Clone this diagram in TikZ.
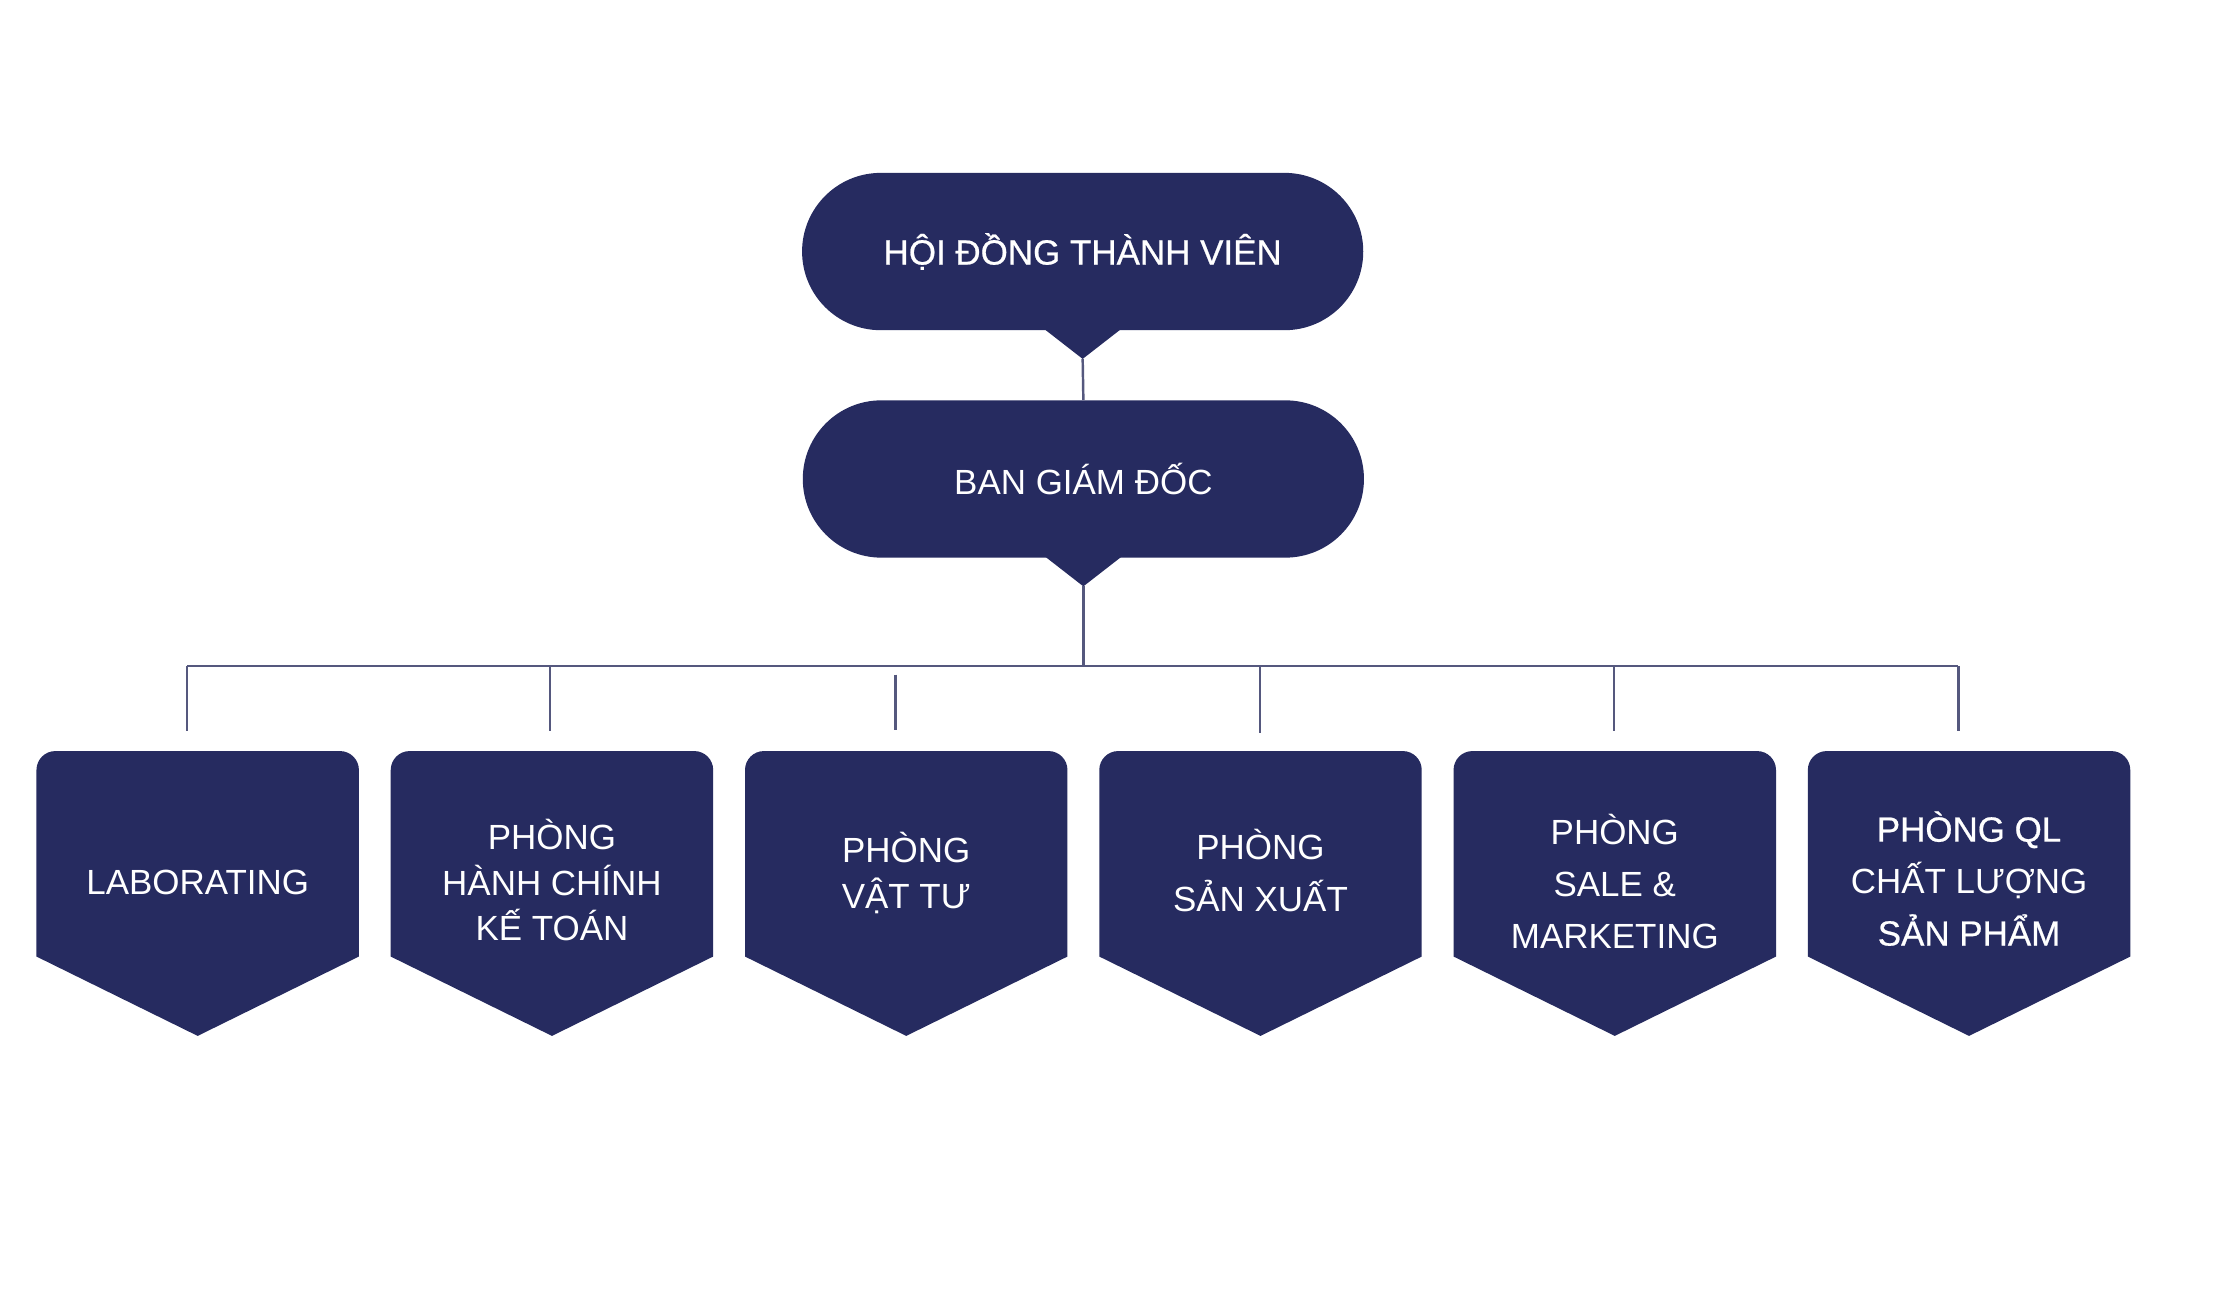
\documentclass[tikz,border=0pt]{standalone}
\usepackage{fontspec}
\setmainfont{Liberation Sans}
\newfontfamily\medfont{Liberation Sans}[FakeBold=0.6]
\usetikzlibrary{shapes.misc,calc,backgrounds}
\definecolor{navy}{HTML}{262B60}
\definecolor{linec}{HTML}{55587E}
\begin{document}
\begin{tikzpicture}[x=0.75pt,y=-0.75pt,
  pill/.style={rounded rectangle, fill=navy, minimum width=297pt, minimum height=83.25pt,
    text=white, font=\fontsize{18.5}{22}\selectfont, inner sep=0pt},
  dept/.style={minimum width=170.25pt, text=white, align=center,
    font=\fontsize{18.5}{24}\selectfont, inner sep=0pt},
  wide/.style={font=\fontsize{18.5}{27.5}\selectfont},
  conn/.style={draw=linec, line width=1.3pt}]
\useasboundingbox (0,0) rectangle (1568,919.5);

% top nodes
\node[pill] (hdtv) at (764,177.5) {\medfont HỘI ĐỒNG THÀNH VIÊN};
\node[pill] (bgd) at (764.5,338) {\raisebox{-1.5pt}{BAN GIÁM ĐỐC}};
\fill[navy] ($(hdtv.south)+(-27,-1)$) -- ($(hdtv.south)+(0,20)$) -- ($(hdtv.south)+(27,-1)$) -- cycle;
\fill[navy] ($(bgd.south)+(-27,-1)$) -- ($(bgd.south)+(0,20)$) -- ($(bgd.south)+(27,-1)$) -- cycle;
\coordinate (hdtvtip) at ($(hdtv.south)+(0,20)$);
\coordinate (bgdtip) at ($(bgd.south)+(0,20)$);

% reference levels of the department shapes
\coordinate (top) at (0,530);
\coordinate (shoulder) at (0,675);
\coordinate (tip) at (0,731);

% departments
\node[dept] (d1) at (139.5,623) {LABORATING};
\node[dept] (d2) at (389.5,621) {PHÒNG\\HÀNH CHÍNH\\KẾ TOÁN};
\node[dept] (d3) at (639.5,616) {PHÒNG\\VẬT TƯ};
\node[dept,wide] (d4) at (889.5,614) {PHÒNG\\SẢN XUẤT};
\node[dept,wide] (d5) at (1139.5,622) {PHÒNG\\SALE \&\\MARKETING};
\node[dept,wide] (d6) at (1389.5,620) {{\medfont PHÒNG QL}\\CHẤT LƯỢNG\\{\medfont SẢN PHẨM}};

\begin{scope}[on background layer]
\fill[white] (0,0) rectangle (1568,919.5);
\foreach \n in {d1,d2,d3,d4,d5,d6}{
  \fill[navy] (\n.west |- shoulder) [rounded corners=10pt] -- (\n.west |- top)
    -- (\n.east |- top) [sharp corners] -- (\n.east |- shoulder)
    -- (\n.center |- tip) -- cycle;
}
\end{scope}

% connectors
\draw[conn] (hdtvtip) -- (bgd.north);
\coordinate (bus) at (764.5,470);
\coordinate (busL) at (132,470);
\coordinate (busR) at (1382,470);
\draw[conn] (bgdtip) -- (bus);
\draw[conn] (busL) -- (busR);
\coordinate (t1) at (132,516);
\coordinate (t2) at (388,516);
\coordinate (t3) at (632,515);
\coordinate (t4) at (889,517);
\coordinate (t5) at (1139,516);
\coordinate (t6) at (1382,516);
\draw[conn] (t1 |- busL) -- (t1);
\draw[conn] (t2 |- busL) -- (t2);
\draw[conn] ($(t3 |- busL)+(0,6)$) -- (t3);
\draw[conn] (t4 |- busL) -- (t4);
\draw[conn] (t5 |- busL) -- (t5);
\draw[conn] (t6 |- busL) -- (t6);
\end{tikzpicture}
\end{document}
